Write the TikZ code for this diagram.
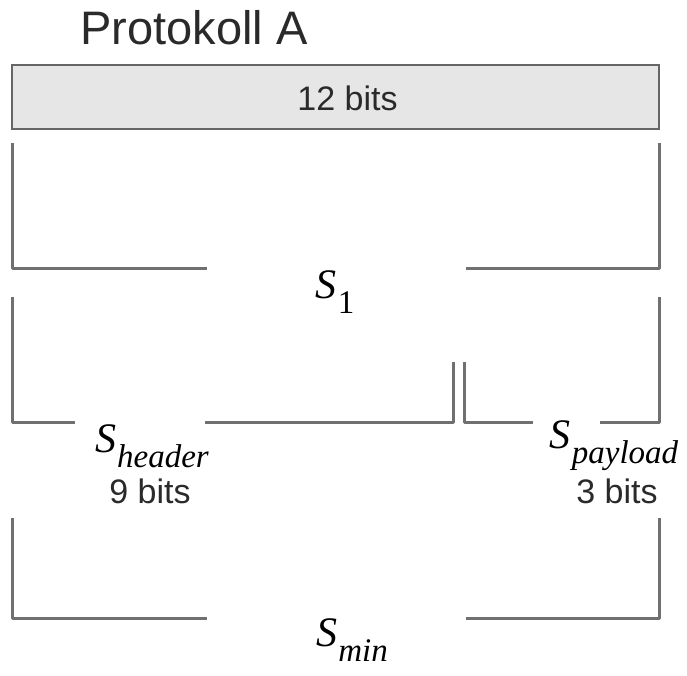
\documentclass[tikz,border=0pt]{standalone}
\usepackage{fontspec}
\setmainfont{Liberation Sans}
\newfontfamily\mserif{Liberation Serif}
\definecolor{linegray}{HTML}{707070}
\definecolor{boxfill}{HTML}{E6E6E6}
\definecolor{boxdraw}{HTML}{666666}
\definecolor{txt}{HTML}{2A2A2A}
\newcommand{\symS}[1]{{\mserif\fontsize{42}{44}\selectfont\itshape S\kern1pt\raisebox{-0.36em}{\fontsize{33}{35}\selectfont #1}}}
\begin{document}
\begin{tikzpicture}[x=1pt,y=-1pt,
  br/.style={draw=linegray, line width=3pt, line join=round},
  lbl/.style={inner sep=0pt, text=black},
  bitlbl/.style={inner sep=0pt, text=txt, font=\fontsize{34}{36}\selectfont},
  field/.style={draw=boxdraw, line width=2pt, fill=boxfill, minimum width=647pt, minimum height=64pt, inner sep=0pt}]
\useasboundingbox (0,0) rectangle (687,675);
\node[inner sep=0pt, anchor=base west, text=txt, font=\fontsize{47}{52}\selectfont] (title) at (80,44) {Protokoll A};
\node[field] (box) at (335.5,97) {};
\node[bitlbl] (b12) at (347.5,98) {12 bits};
% S1 bracket
\coordinate (a1) at (12,143); \coordinate (a2) at (12,268); \coordinate (a3) at (207,268);
\coordinate (a4) at (466,268); \coordinate (a5) at (659,268); \coordinate (a6) at (659,143);
\draw[br] (a1) -- (a2) -- (a3);
\draw[br] (a4) -- (a5) -- (a6);
\node[lbl] (s1) at (335,292) {\symS{\upshape 1}};
% header bracket
\coordinate (h1) at (12,297); \coordinate (h2) at (12,422); \coordinate (h3) at (75,422);
\coordinate (h4) at (205,422); \coordinate (h5) at (453,422); \coordinate (h6) at (453,362);
\draw[br] (h1) -- (h2) -- (h3);
\draw[br] (h4) -- (h5) -- (h6);
\node[lbl] (sh) at (152,446) {\symS{header}};
\node[bitlbl] (b9) at (150,491) {9 bits};
% payload bracket
\coordinate (p1) at (464,362); \coordinate (p2) at (464,422); \coordinate (p3) at (533,422);
\coordinate (p4) at (600,422); \coordinate (p5) at (659,422); \coordinate (p6) at (659,297);
\draw[br] (p1) -- (p2) -- (p3);
\draw[br] (p4) -- (p5) -- (p6);
\node[lbl] (sp) at (614,446) {\symS{payload}};
\node[bitlbl] (b3) at (617,491) {3 bits};
% min bracket
\coordinate (m1) at (12,518); \coordinate (m2) at (12,618); \coordinate (m3) at (207,618);
\coordinate (m4) at (466,618); \coordinate (m5) at (659,618); \coordinate (m6) at (659,518);
\draw[br] (m1) -- (m2) -- (m3);
\draw[br] (m4) -- (m5) -- (m6);
\node[lbl] (sm) at (352,640) {\symS{min}};
\end{tikzpicture}
\end{document}
